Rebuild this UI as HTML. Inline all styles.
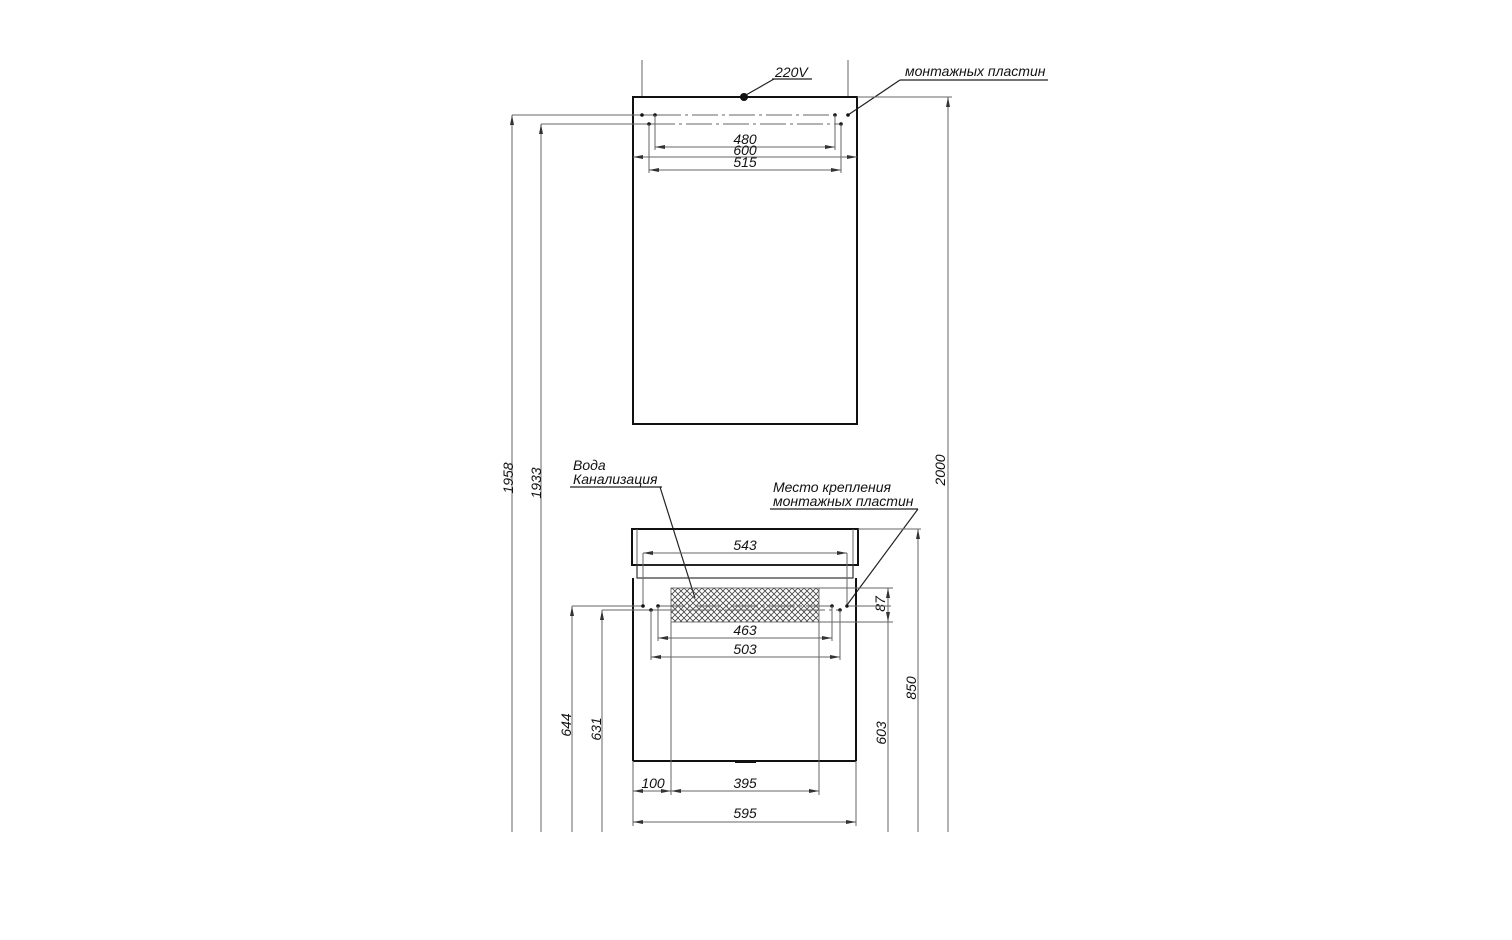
<!DOCTYPE html>
<html><head><meta charset="utf-8"><style>
html,body{margin:0;padding:0;background:#fff}
svg{display:block}
text{font-family:"Liberation Sans",sans-serif;font-style:italic;font-size:14px;fill:#111}
.d{stroke:#666;stroke-width:1;fill:none}
.k{stroke:#111;stroke-width:2;fill:none}
.t{stroke:#222;stroke-width:1.2;fill:none}
</style></head><body>
<svg width="1512" height="940" viewBox="0 0 1512 940" xmlns="http://www.w3.org/2000/svg">
<defs>
<marker id="a" viewBox="0 0 10 4" refX="10" refY="2" markerWidth="10" markerHeight="4" orient="auto-start-reverse" markerUnits="userSpaceOnUse"><path d="M0,0 L10,2 L0,4z" fill="#333"/></marker>
<pattern id="h" width="6" height="6" patternUnits="userSpaceOnUse"><path d="M0,0L6,6M6,0L0,6" stroke="#444" stroke-width="0.8"/></pattern>
</defs>
<line class="d" x1="642" y1="60" x2="642" y2="97"/>
<line class="d" x1="848" y1="60" x2="848" y2="97"/>
<rect class="k" x="633" y="97" width="224" height="327"/>
<circle cx="744" cy="97" r="4" fill="#111"/>
<line class="t" x1="746" y1="95" x2="774" y2="79"/>
<line class="t" x1="772" y1="79" x2="812" y2="79"/>
<text x="775" y="77">220V</text>
<text x="905" y="76">монтажных пластин</text>
<line class="t" x1="900" y1="80" x2="1048" y2="80"/>
<line class="t" x1="848" y1="115" x2="900" y2="80"/>
<line class="d" x1="512" y1="115" x2="655" y2="115"/>
<line class="d" x1="541" y1="124" x2="649" y2="124"/>
<line class="d" x1="655" y1="115" x2="835" y2="115" stroke-dasharray="26,4,3,4"/>
<line class="d" x1="649" y1="124" x2="841" y2="124" stroke-dasharray="26,4,3,4"/>
<g fill="#111"><circle cx="642" cy="115" r="1.8"/><circle cx="655" cy="115" r="1.8"/><circle cx="835" cy="115" r="1.8"/><circle cx="848" cy="115" r="1.8"/><circle cx="649" cy="124" r="1.8"/><circle cx="841" cy="124" r="1.8"/></g>
<line class="d" x1="655" y1="115" x2="655" y2="150"/><line class="d" x1="835" y1="115" x2="835" y2="150"/>
<line class="d" x1="649" y1="124" x2="649" y2="173"/><line class="d" x1="841" y1="124" x2="841" y2="173"/>
<line class="d" x1="655" y1="147" x2="835" y2="147" marker-start="url(#a)" marker-end="url(#a)"/>
<line class="d" x1="633" y1="157" x2="857" y2="157" marker-start="url(#a)" marker-end="url(#a)"/>
<line class="d" x1="649" y1="170" x2="841" y2="170" marker-start="url(#a)" marker-end="url(#a)"/>
<text x="745" y="144" text-anchor="middle">480</text>
<text x="745" y="155" text-anchor="middle">600</text>
<text x="745" y="167" text-anchor="middle">515</text>
<line class="d" x1="857" y1="97" x2="952" y2="97"/>
<line class="d" x1="948" y1="97" x2="948" y2="832" marker-start="url(#a)"/>
<text transform="translate(945,470) rotate(-90)" text-anchor="middle">2000</text>
<line class="d" x1="512" y1="115" x2="512" y2="832" marker-start="url(#a)"/>
<text transform="translate(513,478) rotate(-90)" text-anchor="middle">1958</text>
<line class="d" x1="541" y1="124" x2="541" y2="832" marker-start="url(#a)"/>
<text transform="translate(541,483) rotate(-90)" text-anchor="middle">1933</text>
<text x="573" y="470">Вода</text>
<text x="573" y="484">Канализация</text>
<line class="t" x1="570" y1="487" x2="662" y2="487"/>
<line class="t" x1="660" y1="487" x2="695" y2="598"/>
<text x="773" y="492">Место крепления</text>
<text x="773" y="506">монтажных пластин</text>
<line class="t" x1="770" y1="509" x2="918" y2="509"/>
<line class="t" x1="918" y1="509" x2="847" y2="605"/>
<rect class="k" x="632" y="529" width="226" height="36" stroke-width="1.8"/>
<line class="d" x1="637" y1="529" x2="637" y2="565"/>
<line class="d" x1="853" y1="529" x2="853" y2="565"/>
<rect x="637" y="565" width="216" height="13" fill="none" stroke="#333" stroke-width="1.2"/>
<line class="k" x1="633" y1="578" x2="633" y2="761"/>
<line class="k" x1="856" y1="578" x2="856" y2="761"/>
<line class="k" x1="633" y1="761" x2="856" y2="761"/>
<line x1="735" y1="762" x2="756" y2="762" stroke="#111" stroke-width="2"/>
<line class="d" x1="643" y1="553" x2="643" y2="606"/><line class="d" x1="847" y1="553" x2="847" y2="606"/>
<line class="d" x1="643" y1="553" x2="847" y2="553" marker-start="url(#a)" marker-end="url(#a)"/>
<text x="745" y="550" text-anchor="middle">543</text>
<rect x="671" y="588" width="148" height="34" fill="url(#h)" stroke="#555" stroke-width="0.8"/>
<line class="d" x1="572" y1="606" x2="643" y2="606"/>
<line class="d" x1="602" y1="610" x2="651" y2="610"/>
<line class="d" x1="658" y1="606" x2="832" y2="606" stroke-dasharray="26,4,3,4"/>
<line class="d" x1="651" y1="610" x2="840" y2="610" stroke-dasharray="26,4,3,4"/>
<g fill="#111"><circle cx="643" cy="606" r="1.8"/><circle cx="658" cy="606" r="1.8"/><circle cx="832" cy="606" r="1.8"/><circle cx="847" cy="606" r="1.8"/><circle cx="651" cy="610" r="1.8"/><circle cx="840" cy="610" r="1.8"/></g>
<line class="d" x1="658" y1="606" x2="658" y2="641"/><line class="d" x1="832" y1="606" x2="832" y2="641"/>
<line class="d" x1="651" y1="610" x2="651" y2="660"/><line class="d" x1="840" y1="610" x2="840" y2="660"/>
<line class="d" x1="658" y1="638" x2="832" y2="638" marker-start="url(#a)" marker-end="url(#a)"/>
<line class="d" x1="651" y1="657" x2="840" y2="657" marker-start="url(#a)" marker-end="url(#a)"/>
<text x="745" y="635" text-anchor="middle">463</text>
<text x="745" y="654" text-anchor="middle">503</text>
<line class="d" x1="819" y1="588" x2="893" y2="588"/>
<line class="d" x1="819" y1="622" x2="893" y2="622"/>
<line class="d" x1="888" y1="588" x2="888" y2="622" marker-start="url(#a)" marker-end="url(#a)"/>
<text transform="translate(885,604) rotate(-90)" text-anchor="middle">87</text>
<line class="d" x1="858" y1="529" x2="921" y2="529"/>
<line class="d" x1="918" y1="529" x2="918" y2="832" marker-start="url(#a)"/>
<text transform="translate(916,688) rotate(-90)" text-anchor="middle">850</text>
<line class="d" x1="848" y1="606" x2="891" y2="606"/>
<line class="d" x1="888" y1="622" x2="888" y2="832"/>
<text transform="translate(886,733) rotate(-90)" text-anchor="middle">603</text>
<line class="d" x1="572" y1="606" x2="572" y2="832" marker-start="url(#a)"/>
<text transform="translate(571,725) rotate(-90)" text-anchor="middle">644</text>
<line class="d" x1="602" y1="610" x2="602" y2="832" marker-start="url(#a)"/>
<text transform="translate(601,729) rotate(-90)" text-anchor="middle">631</text>
<line class="d" x1="633" y1="761" x2="633" y2="826"/>
<line class="d" x1="856" y1="761" x2="856" y2="826"/>
<line class="d" x1="671" y1="622" x2="671" y2="795"/>
<line class="d" x1="819" y1="622" x2="819" y2="795"/>
<line class="d" x1="633" y1="791" x2="671" y2="791" marker-start="url(#a)" marker-end="url(#a)"/>
<line class="d" x1="671" y1="791" x2="819" y2="791" marker-start="url(#a)" marker-end="url(#a)"/>
<line class="d" x1="633" y1="822" x2="856" y2="822" marker-start="url(#a)" marker-end="url(#a)"/>
<text x="653" y="788" text-anchor="middle">100</text>
<text x="745" y="788" text-anchor="middle">395</text>
<text x="745" y="818" text-anchor="middle">595</text>
</svg>
</body></html>
